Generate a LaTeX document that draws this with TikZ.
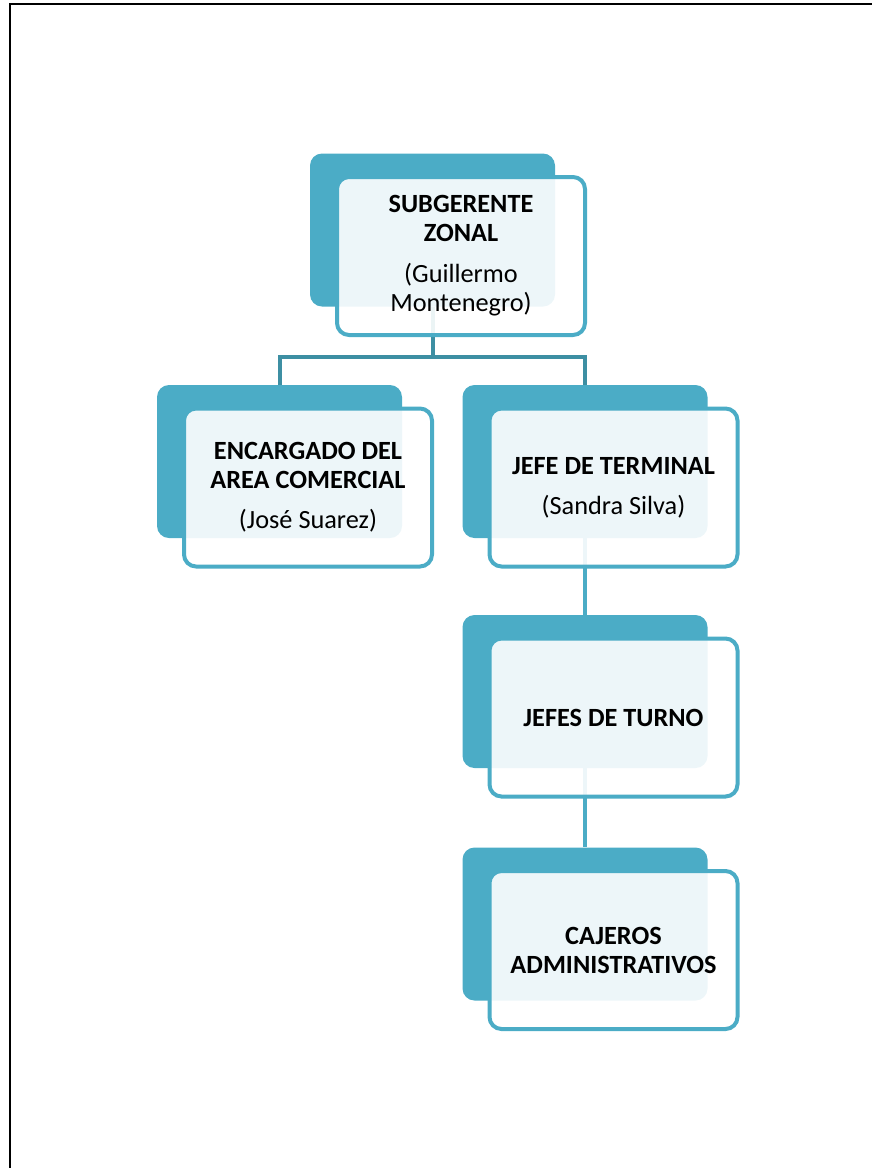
\documentclass[tikz,border=0pt]{standalone}
\usepackage{fontspec}
\setmainfont{Carlito}
\usetikzlibrary{calc}
\definecolor{tealA}{HTML}{4BACC6}
\definecolor{tealB}{HTML}{3D8FA3}

\begin{document}
\begin{tikzpicture}[x=1pt, y=-1pt,
  back/.style={fill=tealA, rounded corners=12pt, minimum width=245pt, minimum height=153pt, inner sep=0pt},
  front/.style={draw=tealA, line width=4pt, fill=white, fill opacity=0.9, text opacity=1, rounded corners=12pt,
    minimum width=248pt, minimum height=158pt, inner sep=0pt, align=center, font=\fontsize{26.3}{29}\selectfont},
  conn/.style={line width=4.5pt, tealA}]
  \useasboundingbox (0,0) rectangle (872,1168);
  % page border
  \draw[line width=2pt] (872,4) -- (10,4) -- (10,1168);
  % back boxes
  \node[back] (subB) at (432.5,230) {};
  \node[back] (encB) at (279.5,461.5) {};
  \node[back] (jefB) at (585,461.5) {};
  \node[back] (turB) at (585,691.5) {};
  \node[back] (cajB) at (585,924) {};
  % connectors
  \coordinate (bus) at (432.5,357);
  \draw[conn, tealB, line width=4pt] (subB.south) -- (bus) -| (encB.north);
  \draw[conn, tealB, line width=4pt] (bus) -| (jefB.north);
  \draw[conn] (jefB.south) -- (turB.north);
  \draw[conn] (turB.south) -- (cajB.north);
  % front boxes
  \node[front] (sub) at ($(subB)+(28.5,26)$) {\textbf{SUBGERENTE}\\\textbf{ZONAL}\\[12pt](Guillermo\\Montenegro)};
  \node[front] (enc) at ($(encB)+(28.5,26)$) {\textbf{ENCARGADO DEL}\\\textbf{AREA COMERCIAL}\\[11pt](José Suarez)};
  \node[front] (jef) at ($(jefB)+(28.5,26)$) {\textbf{JEFE DE TERMINAL}\\[11pt](Sandra Silva)};
  \node[front] (tur) at ($(turB)+(28.5,26)$) {\textbf{JEFES DE TURNO}};
  \node[front] (caj) at ($(cajB)+(28.5,26)$) {\textbf{CAJEROS}\\\textbf{ADMINISTRATIVOS}};
\end{tikzpicture}
\end{document}
